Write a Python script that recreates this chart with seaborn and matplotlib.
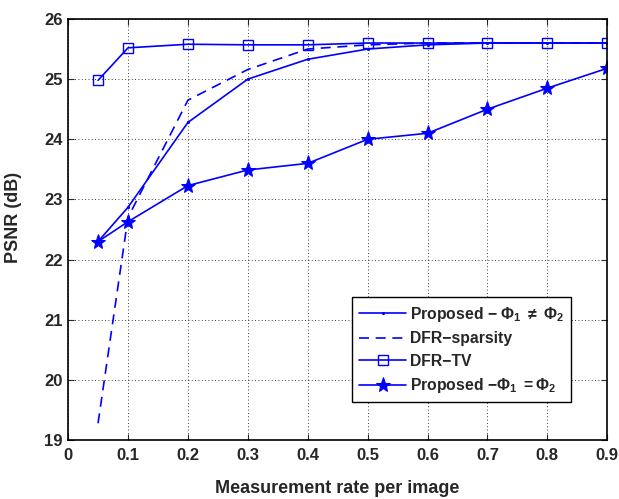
import numpy as np
import pandas as pd
import seaborn as sns
import matplotlib
matplotlib.use('Agg')
import matplotlib.pyplot as plt

# measurement rates
rate = [0.05, 0.1, 0.2, 0.3, 0.4, 0.5, 0.6, 0.7, 0.8, 0.9]

# PSNR (dB)
prop_neq = [22.30, 22.87, 24.28, 25.00, 25.33, 25.50, 25.57, 25.60, 25.60, 25.60]
dfr_sparsity = [19.28, 22.70, 24.65, 25.16, 25.50, 25.57, 25.60, 25.60, 25.60, 25.60]
dfr_tv = [24.98, 25.52, 25.58, 25.57, 25.57, 25.60, 25.60, 25.60, 25.60, 25.60]
prop_eq = [22.30, 22.63, 23.23, 23.49, 23.60, 24.00, 24.10, 24.50, 24.85, 25.18]

labels = [r'Proposed $-$ $\Phi_\mathbf{1}$ $\neq$ $\Phi_\mathbf{2}$',
          'DFR\u2212sparsity',
          'DFR\u2212TV',
          r'Proposed $-\Phi_\mathbf{1}$ $=\Phi_\mathbf{2}$']

sns.set_style('ticks')
plt.rcParams['font.family'] = ['Liberation Sans', 'DejaVu Sans']
plt.rcParams['mathtext.fontset'] = 'custom'
plt.rcParams['mathtext.rm'] = 'Liberation Sans:bold'
plt.rcParams['mathtext.it'] = 'Liberation Sans:bold'
plt.rcParams['mathtext.bf'] = 'Liberation Sans:bold'

fig = plt.figure(figsize=(6.19, 4.99), dpi=100)
ax = fig.add_axes([0.110, 0.118, 0.871, 0.844])

blue = '#0000ff'
sns.lineplot(x=rate, y=prop_neq, ax=ax, color=blue, lw=1.2, marker='.', ms=3,
             markeredgecolor=blue, label=labels[0])
sns.lineplot(x=rate, y=dfr_sparsity, ax=ax, color=blue, lw=1.2, label=labels[1])
ax.lines[-1].set_dashes([6, 4])
sns.lineplot(x=rate, y=dfr_tv, ax=ax, color=blue, lw=1.2, marker='s', ms=7,
             markerfacecolor='none', markeredgecolor=blue, markeredgewidth=1.0,
             label=labels[2])
sns.lineplot(x=rate, y=prop_eq, ax=ax, color=blue, lw=1.2, marker='*', ms=11,
             markeredgecolor=blue, label=labels[3])

ax.set_xlim(0, 0.9)
ax.set_ylim(19, 26)
ax.set_xticks(np.arange(0, 0.91, 0.1))
ax.set_xticklabels(['0', '0.1', '0.2', '0.3', '0.4', '0.5', '0.6', '0.7', '0.8', '0.9'])
ax.set_yticks(range(19, 27))
ax.grid(True, color='black', linestyle=(0, (1, 3)), linewidth=0.6)
ax.tick_params(direction='in', top=True, right=True, labelsize=12, length=4, width=0.8)
ax.tick_params(axis='x', pad=6)
ax.tick_params(axis='y', pad=4)
for t in ax.get_xticklabels() + ax.get_yticklabels():
    t.set_fontweight('bold')
for s in ax.spines.values():
    s.set_linewidth(1.2)
    s.set_color('black')

ax.set_xlabel('Measurement rate per image', fontsize=13, fontweight='bold')
ax.set_ylabel('PSNR (dB)', fontsize=13, fontweight='bold')
ax.xaxis.set_label_coords(0.5, -0.095)
ax.yaxis.set_label_coords(-0.086, 0.528)

leg = ax.legend(loc='lower left', bbox_to_anchor=(0.527, 0.09), fancybox=False,
                edgecolor='black', framealpha=1, prop={'weight': 'bold', 'size': 11.3},
                handlelength=3.0, labelspacing=0.48, borderpad=0.45, handletextpad=0.25,
                borderaxespad=0)
leg.get_frame().set_linewidth(1.0)

fig.savefig('out.png', dpi=100)
